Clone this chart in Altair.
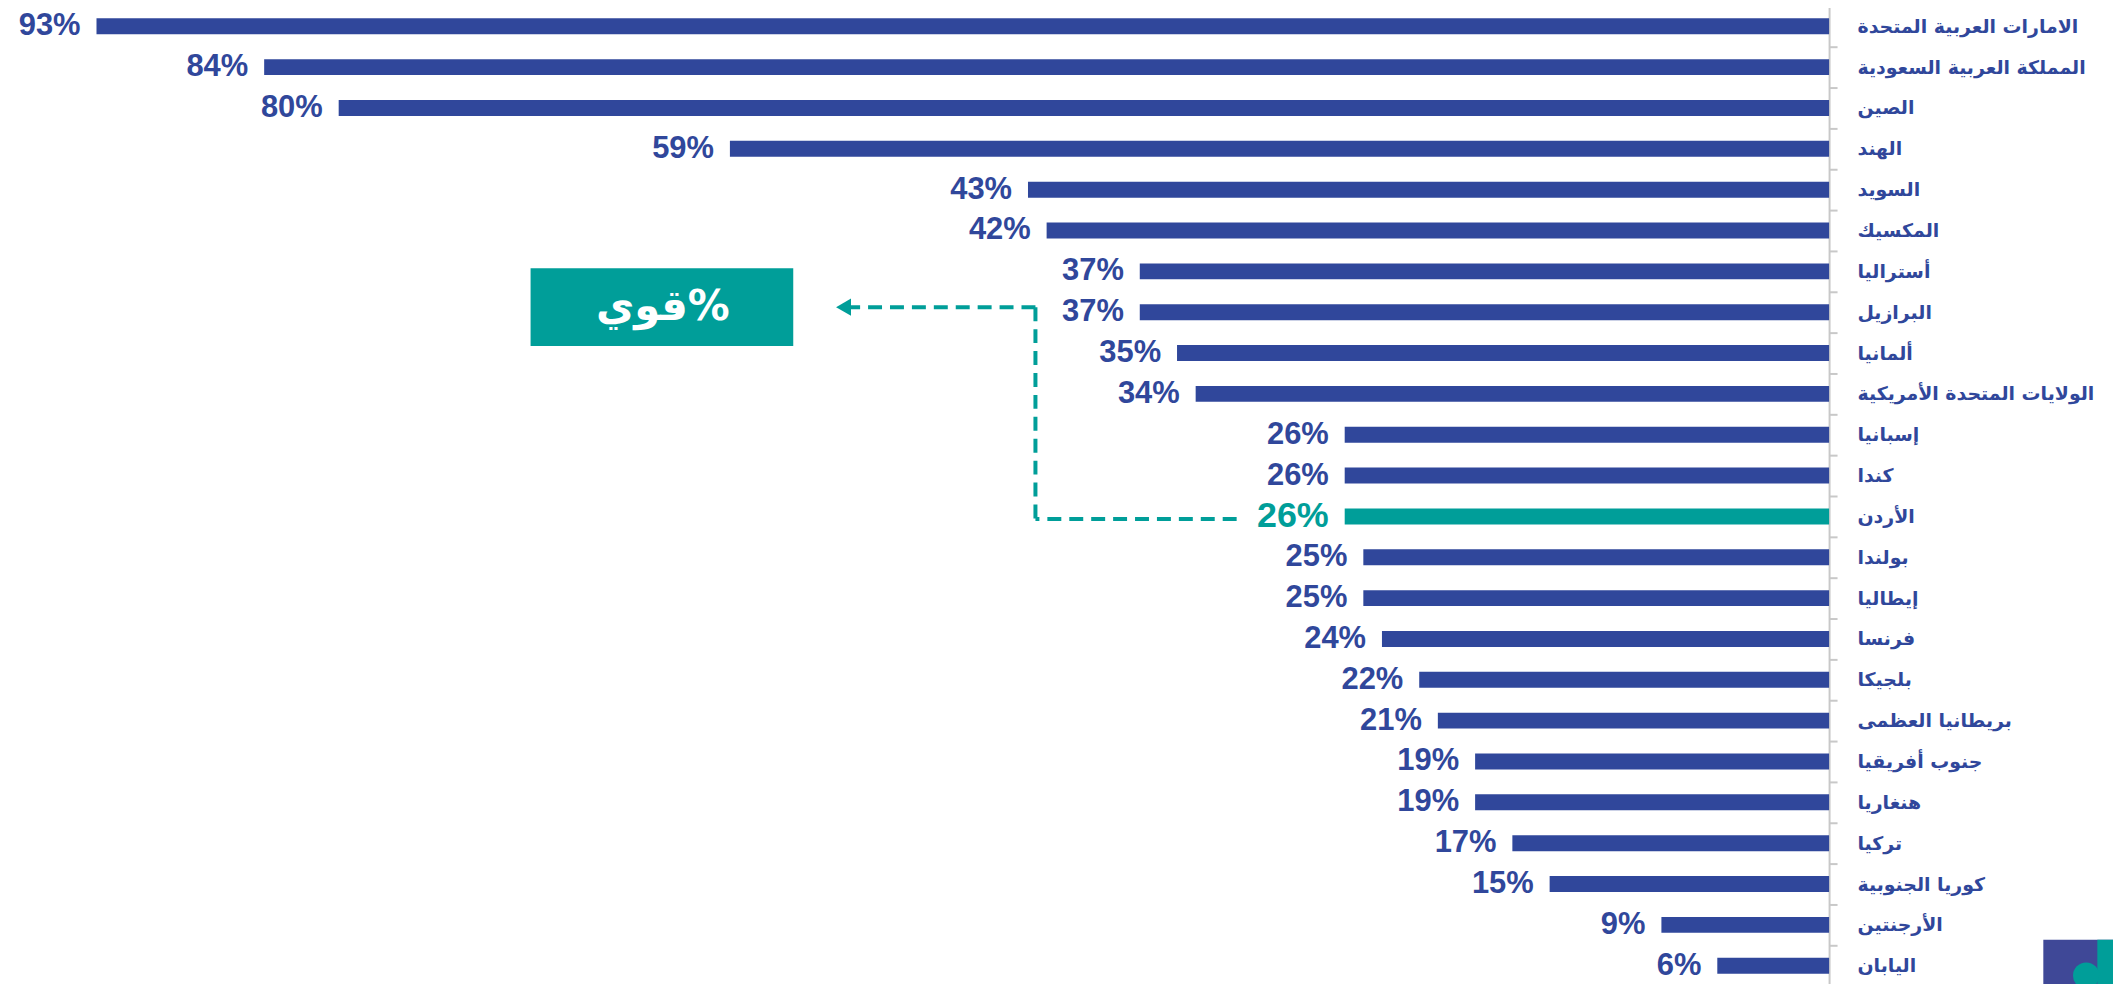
import altair as alt
import pandas as pd

# ---- data ----
countries = [
    "الامارات العربية المتحدة",
    "المملكة العربية السعودية",
    "الصين",
    "الهند",
    "السويد",
    "المكسيك",
    "أستراليا",
    "البرازيل",
    "ألمانيا",
    "الولايات المتحدة الأمريكية",
    "إسبانيا",
    "كندا",
    "الأردن",
    "بولندا",
    "إيطاليا",
    "فرنسا",
    "بلجيكا",
    "بريطانيا العظمى",
    "جنوب أفريقيا",
    "هنغاريا",
    "تركيا",
    "كوريا الجنوبية",
    "الأرجنتين",
    "اليابان",
]
values = [93, 84, 80, 59, 43, 42, 37, 37, 35, 34, 26, 26, 26, 25, 25, 24, 22, 21, 19, 19, 17, 15, 9, 6]
highlight = "الأردن"
callout_text = "قوي%"

BLUE = "#30479B"
TEAL = "#009E99"
AXIS_GRAY = "#C8C8C8"

df = pd.DataFrame({"country": countries, "value": values})
df["label"] = [f"{v}%" for v in values]

xscale = alt.Scale(domain=[0, 97.75], reverse=True, nice=False, zero=True)
yscale = alt.Scale(domain=countries, range=[-4, 980], paddingInner=0, paddingOuter=0)

base = alt.Chart(df)

bars = base.mark_bar(size=16).encode(
    x=alt.X("value:Q", scale=xscale, axis=None),
    y=alt.Y(
        "country:N",
        scale=yscale,
        sort=None,
        axis=alt.Axis(
            orient="right",
            title=None,
            labelAlign="left",
            labelBaseline="middle",
            labelPadding=20,
            labelFont="DejaVu Sans",
            labelFontSize=19,
            labelFontWeight="bold",
            labelColor=BLUE,
            tickSize=8,
            tickWidth=2,
            tickColor=AXIS_GRAY,
            tickBand="extent",
            domainColor=AXIS_GRAY,
            domainWidth=2,
            grid=False,
            labelLimit=400,
        ),
    ),
    color=alt.condition(alt.datum.country == highlight, alt.value(TEAL), alt.value(BLUE)),
)

labels = base.mark_text(
    align="right", baseline="middle", dx=-16, font="Liberation Sans", fontWeight="bold"
).encode(
    x=alt.X("value:Q", scale=xscale),
    y=alt.Y("country:N", scale=yscale, sort=None),
    text="label:N",
    color=alt.condition(alt.datum.country == highlight, alt.value(TEAL), alt.value(BLUE)),
    size=alt.condition(alt.datum.country == highlight, alt.value(36), alt.value(31)),
)

# ---- annotation (callout) in data coordinates ----
top_row = "البرازيل"
ann_bottom = pd.DataFrame({"x": [31.8], "x2": [42.6], "y": [highlight]})
ann_vert = pd.DataFrame({"x": [42.6], "y": [top_row], "y2": [highlight]})
ann_top = pd.DataFrame({"x": [42.6], "x2": [52.5], "y": [top_row]})
ann_arrow = pd.DataFrame({"x": [52.9], "y": [top_row]})
ann_box = pd.DataFrame({"x": [55.6], "x2": [69.7], "y": [top_row], "t": [callout_text], "xc": [62.6]})

dash = [14, 8]
r_bottom = alt.Chart(ann_bottom).mark_rule(color=TEAL, strokeWidth=4, strokeDash=dash, yOffset=2.5).encode(
    x=alt.X("x:Q", scale=xscale), x2="x2:Q", y=alt.Y("y:N", scale=yscale)
)
r_vert = alt.Chart(ann_vert).mark_rule(color=TEAL, strokeWidth=4, strokeDash=dash, yOffset=-5, y2Offset=2.5).encode(
    x=alt.X("x:Q", scale=xscale), y=alt.Y("y:N", scale=yscale), y2="y2:N"
)
r_top = alt.Chart(ann_top).mark_rule(color=TEAL, strokeWidth=4, strokeDash=dash, yOffset=-5).encode(
    x=alt.X("x:Q", scale=xscale), x2="x2:Q", y=alt.Y("y:N", scale=yscale)
)
arrow = alt.Chart(ann_arrow).mark_point(
    shape="triangle-left", filled=True, color=TEAL, size=300, opacity=1, yOffset=-5
).encode(x=alt.X("x:Q", scale=xscale), y=alt.Y("y:N", scale=yscale))
box = alt.Chart(ann_box).mark_bar(size=78, color=TEAL, yOffset=-5).encode(
    x=alt.X("x:Q", scale=xscale), x2="x2:Q", y=alt.Y("y:N", scale=yscale)
)
box_text = alt.Chart(ann_box).mark_text(
    color="white", font="DejaVu Sans", fontWeight="bold", fontSize=42, baseline="middle", align="center", dy=-5
).encode(x=alt.X("xc:Q", scale=xscale), y=alt.Y("y:N", scale=yscale), text="t:N")

# ---- small logo at bottom right (placed in data coordinates beyond the axis) ----
logo_row = countries[-1]
logo_blue = pd.DataFrame({"x": [-11.5], "x2": [-15.8], "y": [logo_row]})
logo_teal = pd.DataFrame({"x": [-14.4], "x2": [-15.8], "y": [logo_row]})
logo_head = pd.DataFrame({"x": [-13.8], "y": [logo_row]})

lg_blue = alt.Chart(logo_blue).mark_bar(size=52, color="#3F4897").encode(
    x=alt.X("x:Q", scale=xscale), x2="x2:Q", y=alt.Y("y:N", scale=yscale)
)
lg_teal = alt.Chart(logo_teal).mark_bar(size=52, color=TEAL).encode(
    x=alt.X("x:Q", scale=xscale), x2="x2:Q", y=alt.Y("y:N", scale=yscale)
)
lg_head = alt.Chart(logo_head).mark_point(
    shape="circle", filled=True, color=TEAL, size=700, opacity=1, yOffset=10
).encode(x=alt.X("x:Q", scale=xscale), y=alt.Y("y:N", scale=yscale))

chart = (
    alt.layer(bars, labels, r_bottom, r_vert, r_top, arrow, box, box_text, lg_blue, lg_teal, lg_head)
    .properties(
        width=1828,
        height=976,
        autosize=alt.AutoSizeParams(type="none"),
        padding={"left": 0, "top": 0, "right": 285, "bottom": 0},
        view=alt.ViewBackground(stroke="transparent", strokeWidth=0),
    )
    .configure_view(strokeWidth=0, stroke="transparent")
    .configure(background="white")
)

chart.save("out.html", embed_options={"renderer": "svg", "actions": False})
